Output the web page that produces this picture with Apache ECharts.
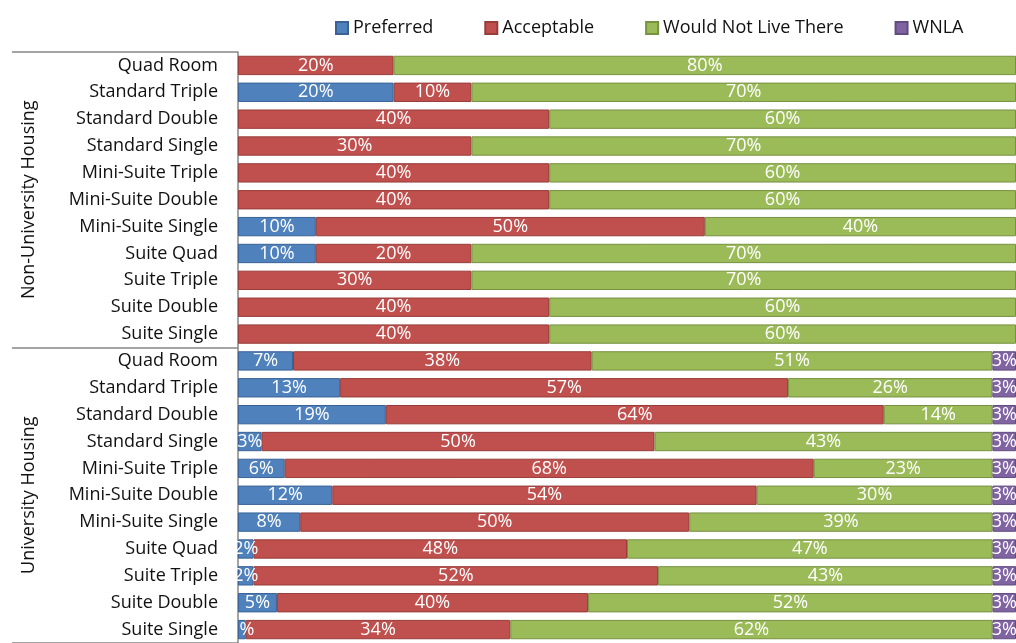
<!DOCTYPE html>
<html>
<head>
<meta charset="utf-8">
<script src="https://cdn.jsdelivr.net/npm/echarts@6/dist/echarts.min.js"></script>
<style>
  html, body { margin: 0; padding: 0; background: #fff; }
  #chart { width: 1016px; height: 643px; }
</style>
</head>
<body>
<div id="chart"></div>
<script>
// Room types, listed top to bottom within each housing group
const roomTypes = ['Quad Room', 'Standard Triple', 'Standard Double', 'Standard Single',
  'Mini-Suite Triple', 'Mini-Suite Double', 'Mini-Suite Single',
  'Suite Quad', 'Suite Triple', 'Suite Double', 'Suite Single'];
const groups = ['Non-University Housing', 'University Housing'];
const seriesNames = ['Preferred', 'Acceptable', 'Would Not Live There', 'WNLA'];

// Percent of respondents per room type (rows follow roomTypes)
const nonUniPreferred  = [0, 20, 0, 0, 0, 0, 10, 10, 0, 0, 0];
const nonUniAcceptable = [20, 10, 40, 30, 40, 40, 50, 20, 30, 40, 40];
const nonUniWouldNot   = [80, 70, 60, 70, 60, 60, 40, 70, 70, 60, 60];
const nonUniWNLA       = [0, 0, 0, 0, 0, 0, 0, 0, 0, 0, 0];

const uniPreferred  = [7, 13, 19, 3, 6, 12, 8, 2, 2, 5, 1];
const uniAcceptable = [38, 57, 64, 50, 68, 54, 50, 48, 52, 40, 34];
const uniWouldNot   = [51, 26, 14, 43, 23, 30, 39, 47, 43, 52, 62];
const uniWNLA       = [3, 3, 3, 3, 3, 3, 3, 3, 3, 3, 3];

const colors  = ['#4F81BD', '#C0504D', '#9BBB59', '#8064A2'];
const borders = ['#3A6296', '#973C3A', '#779141', '#624B80'];
const FONT = 'Open Sans';
const FONT_SIZE = 18;

// All rows, both groups stacked top to bottom
const categories = roomTypes.concat(roomTypes);
const rawBySeries = [
  nonUniPreferred.concat(uniPreferred),
  nonUniAcceptable.concat(uniAcceptable),
  nonUniWouldNot.concat(uniWouldNot),
  nonUniWNLA.concat(uniWNLA)
];

// 100% stacked: each row is scaled by its total, labels keep the raw percent
const rowTotals = categories.map((_, i) => rawBySeries.reduce((s, arr) => s + arr[i], 0));

const series = seriesNames.map((name, si) => ({
  name,
  type: 'bar',
  stack: 'total',
  yAxisIndex: 0,
  barCategoryGap: '28%',
  itemStyle: { color: colors[si], borderColor: borders[si], borderWidth: 1 },
  label: {
    show: true,
    position: 'inside',
    color: '#fff',
    fontFamily: FONT,
    fontSize: FONT_SIZE,
    formatter: p => (p.data && p.data.raw ? p.data.raw + '%' : '')
  },
  emphasis: { disabled: true },
  data: rawBySeries[si].map((v, i) =>
    v === 0 ? { value: '-', raw: 0 } : { value: v / rowTotals[i] * 100, raw: v })
}));

const chart = echarts.init(document.getElementById('chart'));
chart.setOption({
  animation: false,
  color: colors,
  legend: {
    data: seriesNames,
    top: 14,
    left: 330,
    itemGap: 51,
    itemWidth: 12,
    itemHeight: 12,
    icon: 'rect',
    textStyle: { fontFamily: FONT, fontSize: FONT_SIZE, color: '#111' }
  },
  grid: { left: 238, right: 0, top: 52, bottom: -7, containLabel: false },
  xAxis: { type: 'value', min: 0, max: 100, show: false },
  yAxis: [
    {
      type: 'category',
      data: categories,
      inverse: true,
      axisLine: { show: true, lineStyle: { color: '#868686', width: 1.5 } },
      axisTick: { show: false },
      axisLabel: { fontFamily: FONT, fontSize: FONT_SIZE, color: '#111', margin: 20 }
    },
    {
      // Housing group labels with separators spanning the label column
      type: 'category',
      data: groups,
      inverse: true,
      position: 'left',
      offset: 226,
      axisLine: { show: false },
      axisTick: { show: true, inside: true, length: 226, lineStyle: { color: '#868686', width: 1.5 } },
      axisLabel: {
        inside: true, rotate: 90, margin: 8,
        fontFamily: FONT, fontSize: FONT_SIZE, color: '#111', verticalAlign: 'top'
      }
    }
  ],
  series
});
</script>
</body>
</html>
